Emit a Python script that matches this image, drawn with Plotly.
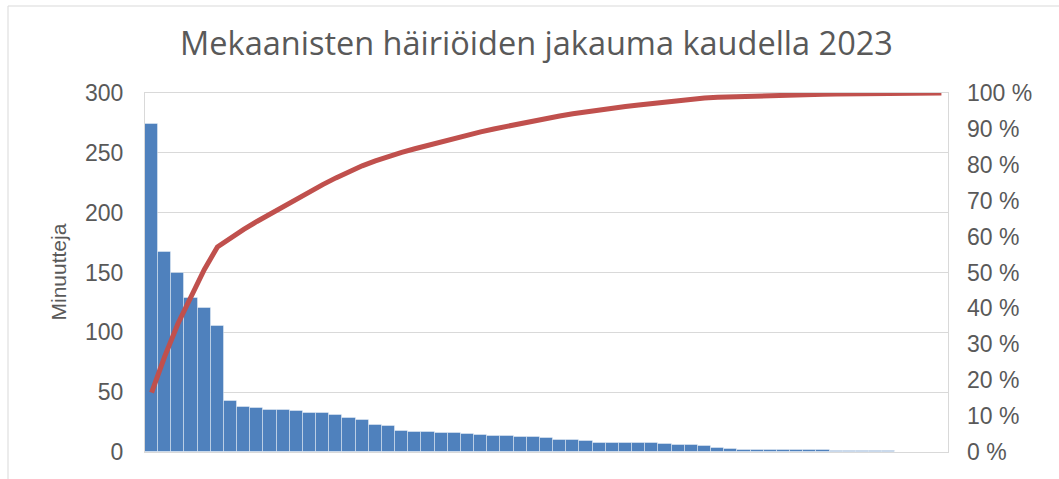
import numpy as np
import plotly.graph_objects as go

title_text = "Mekaanisten häiriöiden jakauma kaudella 2023"
y_title = "Minuutteja"

minutes = [
    274, 167, 150, 129, 120, 105,
    43, 37.6, 36.8, 34.9, 34.9, 34, 32.9, 32.9, 31.2, 28.7, 27, 22.3, 22,
    17.6, 16.7, 16.4, 15.9, 15.6, 15.1, 14.5, 13.7, 13.1, 12.5, 12.3, 11.5,
    10.4, 10.4, 9.5, 7.9, 7.9, 7.5, 7.5, 7.3, 7.0,
    6.1, 6.1, 5.3, 3.3, 2.5, 2.0, 2.0, 1.7, 1.7, 1.7, 1.4, 1.4, 1.1, 1.1, 1.1,
    0.8, 0.6, 0.4, 0.3, 0.15, 0.1,
]
categories = list(range(1, len(minutes) + 1))

left_ticks = [0, 50, 100, 150, 200, 250, 300]
right_tick_vals = [0, 0.1, 0.2, 0.3, 0.4, 0.5, 0.6, 0.7, 0.8, 0.9, 1.0]
right_tick_labels = ["0 %", "10 %", "20 %", "30 %", "40 %", "50 %",
                     "60 %", "70 %", "80 %", "90 %", "100 %"]

cum_share = np.cumsum(minutes) / np.sum(minutes)

W, H = 1059, 479
L, R, T, B = 145, 111, 93, 27
pw, ph = W - L - R, H - T - B

grey = "#595959"
grid = "#d9d9d9"

fig = go.Figure()
fig.add_trace(go.Bar(
    x=categories, y=minutes,
    marker=dict(color="#4f81bd", line=dict(color="rgba(255,255,255,0.4)", width=1)),
    yaxis="y", showlegend=False, hoverinfo="skip",
))
fig.add_trace(go.Scatter(
    x=categories, y=cum_share, mode="lines",
    line=dict(color="#c0504d", width=5),
    yaxis="y2", showlegend=False, hoverinfo="skip",
))

fig.update_layout(
    width=W, height=H,
    margin=dict(l=L, r=R, t=T, b=B, pad=0),
    paper_bgcolor="white", plot_bgcolor="white",
    bargap=0,
    font=dict(family="Liberation Sans, Arial, sans-serif", color=grey),
    title=dict(text=title_text, x=536.5 / W, xref="container", xanchor="center",
               y=1 - 44 / H, yref="container", yanchor="middle",
               font=dict(family="Open Sans, sans-serif", size=32.5, color=grey)),
    xaxis=dict(range=[0.5, len(minutes) + 0.5], showticklabels=False, ticks="",
               showgrid=False, zeroline=False, showline=True, linecolor=grid,
               linewidth=1, mirror=True),
    yaxis=dict(range=[0, 300], tickvals=left_ticks, showgrid=True, gridcolor=grid,
               gridwidth=1, zeroline=False, showline=True, linecolor=grid,
               mirror=True, ticks="", ticklabelstandoff=16,
               tickfont=dict(size=23, color=grey)),
    yaxis2=dict(range=[0, 1], overlaying="y", side="right", tickvals=right_tick_vals,
                ticktext=right_tick_labels, showgrid=False, zeroline=False,
                ticks="", ticklabelstandoff=18, tickfont=dict(size=23, color=grey)),
    annotations=[dict(text=y_title, textangle=-90, xref="paper", yref="paper",
                      x=(58 - L) / pw, y=0.5, xanchor="center", yanchor="middle",
                      showarrow=False, font=dict(size=21, color=grey))],
    shapes=[
        dict(type="line", xref="paper", yref="paper",
             x0=(8 - L) / pw, x1=(8 - L) / pw, y0=-0.2, y1=1 + (T - 6) / ph,
             line=dict(color=grid, width=1)),
        dict(type="line", xref="paper", yref="paper",
             x0=(8 - L) / pw, x1=1.2, y0=1 + (T - 6) / ph, y1=1 + (T - 6) / ph,
             line=dict(color=grid, width=1)),
    ],
)

fig.write_html("out.html")
